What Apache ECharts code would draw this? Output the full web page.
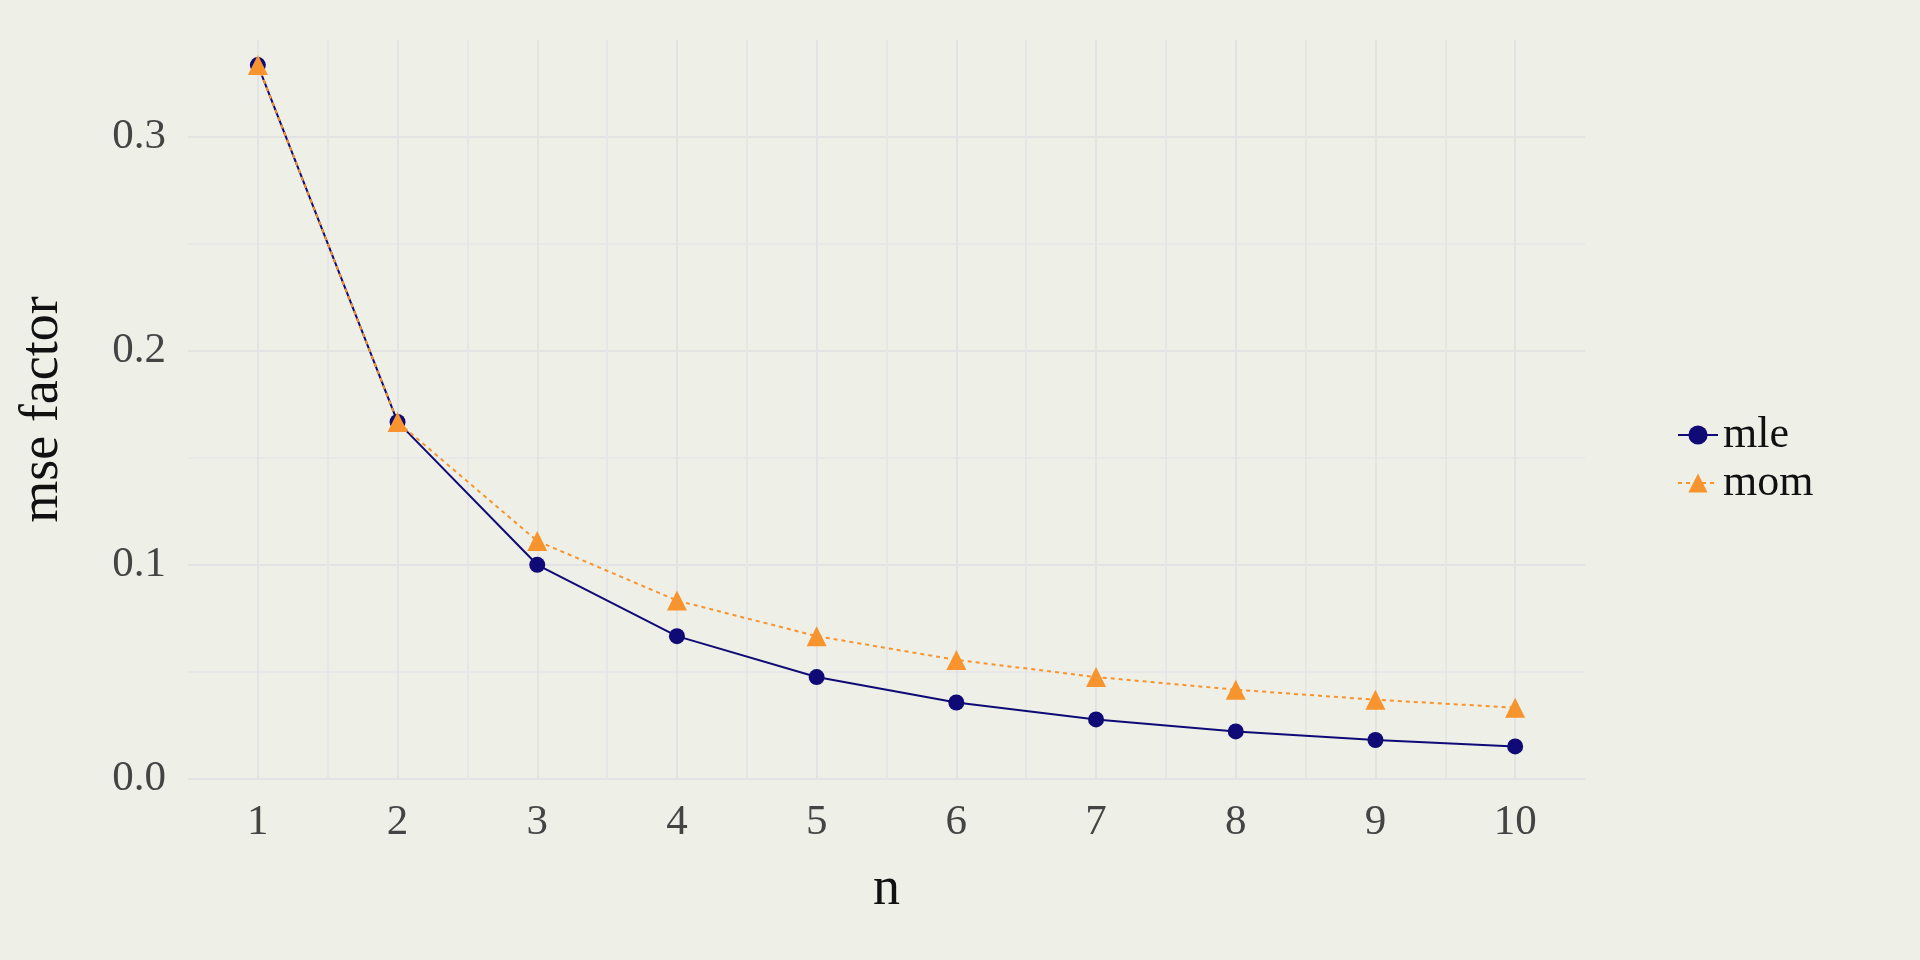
<!DOCTYPE html>
<html>
<head>
<meta charset="utf-8">
<script src="https://cdn.jsdelivr.net/npm/echarts@6/dist/echarts.min.js"></script>
<style>html,body{margin:0;background:#eeefe7}#main{width:1920px;height:960px}</style>
</head>
<body>
<div id="main"></div>
<script>
var nVals = [1, 2, 3, 4, 5, 6, 7, 8, 9, 10];
var mle = [0.3333, 0.1667, 0.1, 0.0667, 0.0476, 0.0357, 0.0278, 0.0222, 0.0182, 0.0152];
var mom = [0.3333, 0.1667, 0.1111, 0.0833, 0.0667, 0.0556, 0.0476, 0.0417, 0.0370, 0.0333];

function pairs(ys){
    var out = [];
    for(var i = 0; i < nVals.length; i ++){
        out.push([nVals[i], ys[i]]);
    }
    return out;
}

var myChart = echarts.init(document.getElementById('main'));
var font = 'Liberation Serif';
var option = {
    backgroundColor: '#eeefe7',
    textStyle: {fontFamily: font},
    grid: {left: 188, right: 335, top: 40, bottom: 181},
    legend: {
        orient: 'vertical',
        left: 1672, top: 408,
        itemGap: 4,
        itemWidth: 40, itemHeight: 24,
        textStyle: {fontFamily: font, fontSize: 44, color: '#111'},
        data: ['mle', 'mom']
    },
    xAxis: {
        type: 'value', min: 0.5, max: 10.5, interval: 0.5,
        name: 'n', nameLocation: 'middle', nameGap: 84,
        nameTextStyle: {fontFamily: font, fontSize: 54, color: '#111'},
        axisLine: {show: false}, axisTick: {show: false},
        axisLabel: {
            fontFamily: font, fontSize: 43, color: '#444', margin: 22,
            formatter: function(v){ return Number.isInteger(v) ? String(v) : ''; }
        },
        splitLine: {showMinLine: false, showMaxLine: false,
            lineStyle: {color: ['#e3e3e3', '#e6e6e6'], width: 2}}
    },
    yAxis: {
        type: 'value', min: 0, max: 0.345, interval: 0.05,
        name: 'mse factor', nameLocation: 'middle', nameGap: 118,
        nameTextStyle: {fontFamily: font, fontSize: 54, color: '#111'},
        axisLine: {show: false}, axisTick: {show: false},
        axisLabel: {
            fontFamily: font, fontSize: 43, color: '#444', margin: 22,
            formatter: function(v){
                var k = Math.round(v * 100);
                return k % 10 === 0 ? (k / 100).toFixed(1) : '';
            }
        },
        splitLine: {showMaxLine: false, lineStyle: {color: ['#e3e3e3', '#e8e8e8'], width: 2}}
    },
    series: [
        {
            name: 'mle', type: 'line', data: pairs(mle),
            symbol: 'circle', symbolSize: 16,
            itemStyle: {color: '#0f0a75'},
            lineStyle: {color: '#0f0a75', width: 2}
        },
        {
            name: 'mom', type: 'line', data: pairs(mom),
            symbol: 'triangle', symbolSize: 20,
            itemStyle: {color: '#f7942e'},
            lineStyle: {color: '#f7942e', width: 2, type: [4, 4]}
        }
    ]
};
myChart.setOption(option);
</script>
</body>
</html>
